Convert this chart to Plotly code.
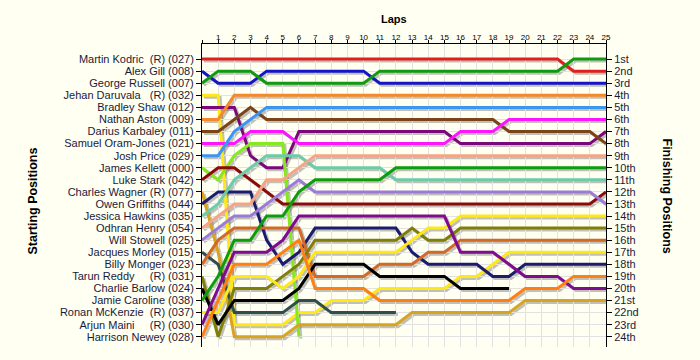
import plotly.graph_objects as go

laps = list(range(26))
lap_ticks = list(range(26))
lap_tick_text = [""] + [str(i) for i in range(1, 26)]

start_labels = [
    "Martin Kodric\u00a0\u00a0(R) (027)", "Alex Gill (008)", "George Russell (007)",
    "Jehan Daruvala\u00a0\u00a0\u00a0(R) (032)", "Bradley Shaw (012)", "Nathan Aston (009)",
    "Darius Karbaley (011)", "Samuel Oram-Jones (021)", "Josh Price (029)",
    "James Kellett (000)", "Luke Stark (042)", "Charles Wagner (R) (077)",
    "Owen Griffiths (044)", "Jessica Hawkins (035)", "Odhran Henry (054)",
    "Will Stowell (025)", "Jacques Morley (015)", "Billy Monger (023)",
    "Tarun Reddy\u00a0\u00a0\u00a0\u00a0\u00a0(R) (031)", "Charlie Barlow (024)", "Jamie Caroline (038)",
    "Ronan McKenzie\u00a0\u00a0(R) (037)", "Arjun Maini\u00a0\u00a0\u00a0\u00a0\u00a0(R) (030)", "Harrison Newey (028)",
]
finish_labels = ["1st", "2nd", "3rd"] + [f"{i}th" for i in range(4, 21)] + ["21st", "22nd", "23rd", "24th"]

colors = [
    "#E0201C", "#1414C8", "#109A10", "#FFE81A", "#7A087A", "#F5892A",
    "#7A4418", "#FF14FF", "#3A96F0", "#86E81E", "#8B0A0A", "#D8A420",
    "#1C1C6E", "#6CCCA8", "#F5A585", "#9C7AD8", "#2E4E4C", "#D06A24",
    "#7E7E08", "#000000", "#0C9C0C", "#FFE81A", "#7E0C8C", "#FF8010",
]

N = None
pos_kodric   = [1]*23 + [2, 2, 2]
pos_gill     = [2, 3, 3, 3] + [2]*7 + [3]*15
pos_russell  = [3, 2, 2, 2] + [3]*7 + [2]*12 + [1, 1, 1]
pos_daruvala = [4, 4, 23, 23, 23, 23, 22, 22, 21, 21, 21, 20, 20, 20, 20, 20, 19, 19, 18, 17, 17, 17, 17, 17, 17, 17]
pos_shaw     = [5, 5, 5, 9, 10, 10] + [7]*10 + [8]*9 + [7]
pos_aston    = [6, 6] + [4]*24
pos_karbaley = [7, 7, 6, 5] + [6]*15 + [7]*6 + [8]
pos_oram     = [8, 8, 8, 7, 7, 7] + [8]*10 + [7, 7, 7] + [6]*7
pos_price    = [9, 9, 7, 6] + [5]*22
pos_kellett  = [10, 11, 9, 8, 8, 8, 24] + [N]*19
pos_stark    = [11, 10, 10, 11, 12, 13] + [13]*19 + [12]
pos_wagner   = [12, 17, 24, 24, 24, 24, 23, 23, 23, 23, 23, 23, 23, 22, 22, 22, 22, 22, 22, 22, 21, 21, 21, 21, 21, 21]
pos_griffiths = [13, 12, 12, 12, 16, 18, 17, 15, 15, 15, 15, 15, 15, 17, 18, 18, 18, 18, 19, 19, 18, 18, 18, 18, 18, 18]
pos_hawkins  = [14, 13, 11, 10, 9, 9, 9] + [10]*5 + [11]*14
pos_henry    = [15, 14, 13, 13, 11, 11, 10] + [9]*19
pos_stowell  = [16, 15, 14, 14, 13, 12, 11] + [12]*18 + [13]
pos_morley   = [17, 18, 22, 22, 22, 22, 21, 21, 22, 22, 22, 22, 22] + [N]*13
pos_monger   = [18, 16, 15, 15, 15, 15, 15, 19, 19, 19, 19, 18, 18, 18, 17, 17] + [16]*10
pos_reddy    = [19, 24, 20, 20, 20, 19, 18, 16, 16, 16, 16, 16, 16, 15, 16, 16] + [15]*10
pos_barlow   = [20, 23, 21, 21, 21, 21, 20, 18, 18, 18, 18, 19, 19, 19, 19, 19, 20, 20, 20, 20] + [N]*6
pos_caroline = [21, 19, 16, 16, 14, 14, 12, 11, 11, 11, 11, 11] + [10]*14
pos_mckenzie = [22, 22, 19, 19, 19, 20, 19, 17, 17, 17, 17, 17, 17, 16, 15, 15] + [14]*10
pos_maini    = [23, 20, 17, 17, 17, 16, 14] + [14]*9 + [17, 17, 17, 18, 19, 19, 19, 20, 20, 20]
pos_newey    = [24, 21, 18, 18, 18, 17, 16, 20, 20, 20, 20, 21, 21, 21, 21, 21, 21, 21, 21, 21, 20, 20, 20, 19, 19, 19]

positions = [
    pos_kodric, pos_gill, pos_russell, pos_daruvala, pos_shaw, pos_aston,
    pos_karbaley, pos_oram, pos_price, pos_kellett, pos_stark, pos_wagner,
    pos_griffiths, pos_hawkins, pos_henry, pos_stowell, pos_morley, pos_monger,
    pos_reddy, pos_barlow, pos_caroline, pos_mckenzie, pos_maini, pos_newey,
]

fig = go.Figure()

# drop shadows on a hidden pair of axes whose ranges are nudged by ~2px
for p in positions:
    fig.add_trace(go.Scatter(x=laps, y=p, mode="lines", xaxis="x", yaxis="y",
                             line=dict(color="rgba(90,90,90,0.38)", width=3),
                             hoverinfo="skip", showlegend=False))
for p, c, lab in zip(positions, colors, start_labels):
    fig.add_trace(go.Scatter(x=laps, y=p, mode="lines", xaxis="x2", yaxis="y2",
                             line=dict(color=c, width=3), name=lab, showlegend=False))
fig.add_trace(go.Scatter(x=[None], y=[None], xaxis="x2", yaxis="y3", showlegend=False, hoverinfo="skip"))

W, H = 700, 360
L, R, T, B = 202, 94, 44, 13
pw, ph = W - L - R, H - T - B
xr = [0, 25]
yr = [24.85, -0.25]
sx = 2 * (xr[1] - xr[0]) / pw
sy = 2 * (yr[0] - yr[1]) / ph
font = "Liberation Sans, Arial, sans-serif"
BG = "#FFFFF2"

fig.update_layout(
    width=W, height=H,
    margin=dict(l=L, r=R, t=T, b=B),
    paper_bgcolor=BG,
    plot_bgcolor="rgba(0,0,0,0)",
    font=dict(family=font, size=11, color="#1a1a3a"),
    xaxis=dict(range=[xr[0] - sx, xr[1] - sx], domain=[0, 1], visible=False, fixedrange=True),
    yaxis=dict(range=[yr[0] - sy, yr[1] - sy], domain=[0, 1], visible=False, fixedrange=True),
    xaxis2=dict(range=xr, domain=[0, 1], side="top", anchor="y2",
                tickmode="array", tickvals=lap_ticks, ticktext=lap_tick_text,
                tickfont=dict(size=8, color="#000"), ticks="outside", ticklen=3, tickcolor="#000",
                ticklabelstandoff=-3,
                showgrid=True, gridcolor="#E2E2E2", gridwidth=1,
                showline=True, linecolor="#000", linewidth=1, zeroline=False),
    yaxis2=dict(range=yr, domain=[0, 1], anchor="x2",
                tickmode="array", tickvals=list(range(1, 25)), ticktext=start_labels,
                ticks="outside", ticklen=5, tickcolor="#000",
                showgrid=True, gridcolor="#E2E2E2", gridwidth=1,
                showline=True, linecolor="#000", linewidth=1, zeroline=False),
    yaxis3=dict(range=yr, overlaying="y2", side="right", anchor="x2",
                tickmode="array", tickvals=list(range(1, 25)), ticktext=finish_labels,
                tickfont=dict(size=11),
                ticks="outside", ticklen=5, tickcolor="#000", showgrid=False,
                showline=True, linecolor="#000", linewidth=1, zeroline=False),
    annotations=[
        dict(text="<b>Laps</b>", xref="paper", yref="paper", x=0.475, y=1, yshift=33,
             showarrow=False, font=dict(size=11, color="#000")),
        dict(text="<b>Starting Positions</b>", xref="paper", yref="paper", x=0, xshift=-178, y=0.48,
             textangle=-90, showarrow=False, font=dict(size=12.5, color="#000")),
        dict(text="<b>Finishing Positions</b>", xref="paper", yref="paper", x=1, xshift=70, y=0.5,
             textangle=90, showarrow=False, font=dict(size=12.5, color="#000")),
    ],
)

fig.write_html(
    "out.html",
    config={"displayModeBar": False},
    post_script="document.body.style.margin='0';document.body.style.background='" + BG + "';",
)
